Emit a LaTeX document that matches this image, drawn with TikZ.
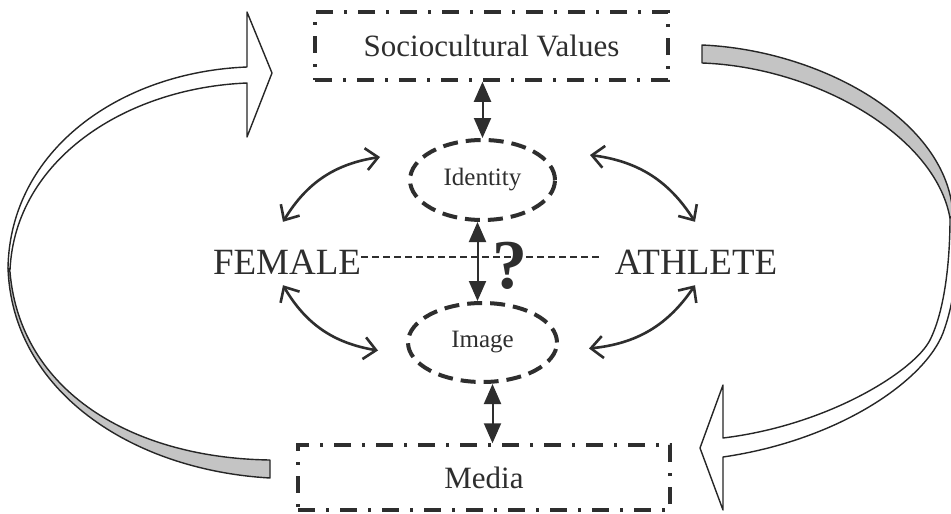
\documentclass[tikz,border=0pt]{standalone}
\usepackage{fontspec}
\setmainfont{Liberation Serif}
\usetikzlibrary{arrows.meta,shapes.geometric,calc}
\definecolor{ink}{HTML}{2E2E2E}
\definecolor{ribbon}{HTML}{C4C4C4}
\begin{document}
\begin{tikzpicture}[x=1pt,y=-1pt,
  dashbox/.style={draw=ink, line width=3.5pt, dash pattern=on 17pt off 11pt on 3pt off 11pt,
    inner sep=0pt, text=ink, font=\fontsize{31}{34}\selectfont},
  dashell/.style={ellipse, draw=ink, line width=4pt, dash pattern=on 15pt off 8pt,
    inner sep=0pt, text=ink, font=\fontsize{25}{28}\selectfont},
  bigword/.style={inner sep=0pt, text height=27pt, text depth=0pt, text=ink,
    font=\fontsize{37}{40}\selectfont},
  vlink/.style={draw=ink, line width=2pt,
    {Triangle[length=20pt,width=17pt]}-{Triangle[length=20pt,width=17pt]}},
  curv/.style={draw=ink, line width=2.6pt,
    {Straight Barb[length=12pt,width=22pt]}-{Straight Barb[length=12pt,width=22pt]}},
  ribbonline/.style={draw=black!85, line width=1.4pt, line join=round},
]
\useasboundingbox (0,0) rectangle (951,514);
\fill[white] (0,0) rectangle (951,514);

% left big arrow
\filldraw[ribbonline, fill=ribbon] (8,268) .. controls (12,390) and (130,470) .. (270,478)
  -- (270,460) .. controls (130,458) and (20,390) .. (10,272) -- cycle;
\filldraw[ribbonline, fill=white] (247,67) .. controls (120,72) and (10,150) .. (8,268)
  -- (10,270) .. controls (15,160) and (125,88) .. (247,83)
  -- (247,137) -- (272,73) -- (247,12) -- cycle;

% right big arrow
\filldraw[ribbonline, fill=ribbon] (702,45) .. controls (820,50) and (948,120) .. (953,215)
  -- (950,218) .. controls (935,135) and (815,67) .. (702,63) -- cycle;
\filldraw[ribbonline, fill=white] (953,215) .. controls (958,270) and (955,300) .. (943,333)
  .. controls (925,380) and (840,440) .. (723,457)
  -- (723,510) -- (700,448) -- (723,385) -- (723,438)
  .. controls (830,425) and (915,370) .. (930,340)
  .. controls (945,310) and (950,260) .. (950,218) -- cycle;

% nodes
\node[dashbox, minimum width=353pt, minimum height=68pt] (socio) at (491.5,46) {Sociocultural Values};
\node[dashbox, minimum width=372pt, minimum height=65pt] (media) at (484,477.5) {Media};
\node[dashell, minimum width=145pt, minimum height=80pt] (identity) at (482.5,180) {\raisebox{-5pt}{Identity}};
\node[dashell, minimum width=149pt, minimum height=79pt] (image) at (482.5,342.5) {\raisebox{-3pt}{Image}};
\node[bigword, anchor=base] (female) at (287,274) {FEMALE};
\node[bigword, anchor=base] (athlete) at (696,274) {ATHLETE};

% dashed link
\draw[ink, line width=1.5pt, dash pattern=on 7pt off 4pt]
  ([shift={(0,-3.5)}]female.east) -- ([shift={(-13,-3.5)}]athlete.west);

% vertical links
\draw[vlink] (socio.south -| identity.north) -- (identity.north);
\draw[vlink] ([shift={(-5,0)}]identity.south) -- ([shift={(-5,0)}]image.north);
\coordinate (imgs) at ([shift={(10,0)}]image.south);
\draw[vlink] (imgs) -- (imgs |- media.north);

\node[text=ink, font=\bfseries\fontsize{70}{72}\selectfont, anchor=base, inner sep=0pt] (q) at (510,288) {?};

% curved links
\draw[curv] ([shift={(-4,-25)}]female.north) to[bend left=25] ([shift={(-28,-23)}]identity.west);
\draw[curv] ([shift={(33,-25)}]identity.east) to[bend left=25] ([shift={(-1,-25)}]athlete.north);
\draw[curv] ([shift={(-4,11)}]female.south) to[bend right=25] ([shift={(-28,8)}]image.west);
\draw[curv] ([shift={(30,6)}]image.east) to[bend right=25] ([shift={(-1,11)}]athlete.south);
\end{tikzpicture}
\end{document}
